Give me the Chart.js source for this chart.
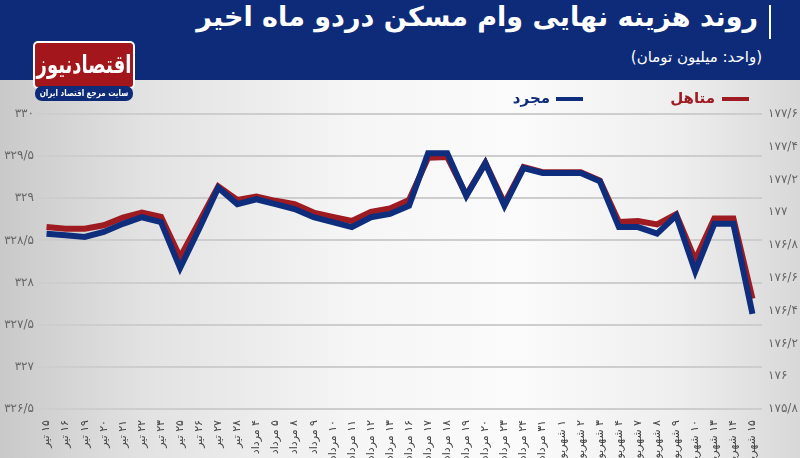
<!DOCTYPE html>
<html lang="fa">
<head>
<meta charset="utf-8">
<script src="https://cdn.jsdelivr.net/npm/chart.js@4.4.1/dist/chart.umd.min.js"></script>
<style>
  html, body { margin: 0; padding: 0; }
  body {
    width: 800px; height: 458px; overflow: hidden; position: relative;
    font-family: "DejaVu Sans", sans-serif;
    background: linear-gradient(90deg, #c9c9c9 0%, #e2e2e2 18%, #f6f6f6 45%, #fbfbfb 65%, #eeeeee 85%, #d8d8d8 100%);
  }
  #wrap { position: absolute; left: 0; top: 0; width: 800px; height: 458px; }
  #header { position: absolute; left: 0; top: 0; width: 800px; height: 80px; background: #0d2b78; }
  #title { position: absolute; right: 42px; top: 1px; color: #fff; font-weight: bold; font-size: 27px; direction: rtl; white-space: nowrap; }
  #bar { position: absolute; left: 769px; top: 5px; width: 2px; height: 34px; background: #fff; }
  #subtitle { position: absolute; right: 38px; top: 48px; color: #fff; font-size: 15px; direction: rtl; white-space: nowrap; }
  #logo { position: absolute; left: 33px; top: 41px; width: 98px; height: 44px; background: #a3161c; border: 2px solid #fff; border-radius: 5px;
          color: #fff; font-weight: bold; overflow: hidden; }
  #logo span { position: absolute; left: 50%; top: 0; line-height: 44px; font-size: 25px; white-space: nowrap; direction: rtl;
               transform: translateX(-50%) scaleX(0.72); }
  #tag { position: absolute; left: 35px; top: 86px; width: 98px; height: 15px; background: #0d2b78; border-radius: 7px;
         color: #fff; font-weight: bold; overflow: hidden; }
  #tag span { position: absolute; left: 50%; top: 0; line-height: 15px; font-size: 9px; white-space: nowrap; direction: rtl;
              transform: translateX(-50%) scaleX(0.8); }
  .leg { position: absolute; top: 89px; font-weight: bold; font-size: 15px; direction: rtl; white-space: nowrap; }
  .sw { position: absolute; top: 97px; width: 27px; height: 4px; }
</style>
</head>
<body>
<div id="wrap"><canvas id="lineChart" dir="rtl"></canvas></div>
<div id="header">
  <div id="title">روند هزینه نهایی وام مسکن دردو ماه اخیر</div>
  <div id="bar"></div>
  <div id="subtitle">(واحد: میلیون تومان)</div>
</div>
<div id="logo"><span>اقتصادنیوز</span></div>
<div id="tag"><span>سایت مرجع اقتصاد ایران</span></div>
<div class="leg" style="right:85px;color:#9e1b22;">متاهل</div>
<div class="sw" style="left:722px;background:#9e1b22;"></div>
<div class="leg" style="right:250px;color:#0f2d7d;">مجرد</div>
<div class="sw" style="left:556px;background:#0f2d7d;"></div>

<script>
const dates = [
  "۱۵ تیر", "۱۶ تیر", "۱۹ تیر", "۲۰ تیر", "۲۱ تیر", "۲۲ تیر", "۲۳ تیر", "۲۵ تیر", "۲۶ تیر", "۲۷ تیر", "۲۸ تیر",
  "۴ مرداد", "۵ مرداد", "۸ مرداد", "۹ مرداد", "۱۰ مرداد", "۱۱ مرداد", "۱۲ مرداد", "۱۳ مرداد", "۱۶ مرداد",
  "۱۷ مرداد", "۱۸ مرداد", "۱۹ مرداد", "۲۰ مرداد", "۲۳ مرداد", "۲۴ مرداد", "۳۱ مرداد",
  "۱ شهریور", "۲ شهریور", "۳ شهریور", "۴ شهریور", "۷ شهریور", "۸ شهریور", "۹ شهریور", "۱۰ شهریور",
  "۱۳ شهریور", "۱۴ شهریور", "۱۵ شهریور"
];

// متاهل (left axis)
const married = [
  328.66, 328.64, 328.64, 328.68, 328.77, 328.83, 328.78, 328.30, 328.72, 329.14, 328.98,
  329.02, 328.97, 328.93, 328.83, 328.78, 328.73, 328.84, 328.88, 328.98,
  329.48, 329.49, 329.04, 329.42, 328.94, 329.37, 329.31,
  329.31, 329.31, 329.21, 328.72, 328.73, 328.69, 328.81, 328.27,
  328.76, 328.76, 327.81
];

// مجرد (right axis)
const single = [
  176.87, 176.86, 176.85, 176.88, 176.93, 176.97, 176.94, 176.66, 176.90, 177.15, 177.05,
  177.08, 177.05, 177.02, 176.97, 176.94, 176.91, 176.97, 176.99, 177.04,
  177.36, 177.36, 177.10, 177.30, 177.04, 177.27, 177.24,
  177.24, 177.24, 177.19, 176.91, 176.91, 176.87, 176.98, 176.64,
  176.93, 176.93, 176.38
];

const leftTicks = [326.5, 327, 327.5, 328, 328.5, 329, 329.5, 330];
const leftTickLabels = ["۳۲۶/۵", "۳۲۷", "۳۲۷/۵", "۳۲۸", "۳۲۸/۵", "۳۲۹", "۳۲۹/۵", "۳۳۰"];
const rightTicks = [175.8, 176, 176.2, 176.4, 176.6, 176.8, 177, 177.2, 177.4, 177.6];
const rightTickLabels = ["۱۷۵/۸", "۱۷۶", "۱۷۶/۲", "۱۷۶/۴", "۱۷۶/۶", "۱۷۶/۸", "۱۷۷", "۱۷۷/۲", "۱۷۷/۴", "۱۷۷/۶"];

Chart.defaults.font.family = '"DejaVu Sans", sans-serif';

new Chart(document.getElementById("lineChart").getContext("2d"), {
  type: "line",
  data: {
    labels: dates,
    datasets: [
      { label: "متاهل", data: married, yAxisID: "yL", borderColor: "#9e1b22", borderWidth: 6,
        pointRadius: 0, tension: 0, order: 2 },
      { label: "مجرد", data: single, yAxisID: "yR", borderColor: "#0f2d7d", borderWidth: 6,
        pointRadius: 0, tension: 0, order: 1 }
    ]
  },
  options: {
    animation: false,
    responsive: true,
    maintainAspectRatio: false,
    layout: { padding: { top: 114, left: 0, right: 0, bottom: 0 } },
    plugins: { legend: { display: false }, tooltip: { enabled: false } },
    scales: {
      x: {
        offset: true,
        grid: { display: false },
        border: { display: false },
        ticks: { autoSkip: false, minRotation: 90, maxRotation: 90, color: "#444", font: { size: 11 }, padding: 3 },
        afterFit: s => { s.height = 49; }
      },
      yL: {
        position: "left",
        min: 326.5, max: 330,
        afterBuildTicks: s => { s.ticks = leftTicks.map(v => ({ value: v })); },
        ticks: { callback: (v, i) => leftTickLabels[i], color: "#666", font: { size: 12 }, padding: 3 },
        grid: { color: "#cdcdcd", lineWidth: 2, drawTicks: false },
        border: { display: false },
        afterFit: s => { s.width = 37; }
      },
      yR: {
        position: "right",
        min: 175.8, max: 177.6,
        afterBuildTicks: s => { s.ticks = rightTicks.map(v => ({ value: v })); },
        ticks: { callback: (v, i) => rightTickLabels[i], color: "#666", font: { size: 12 }, padding: 6 },
        grid: { display: false, drawTicks: false },
        border: { display: false },
        afterFit: s => { s.width = 38; }
      }
    }
  }
});
</script>
</body>
</html>
